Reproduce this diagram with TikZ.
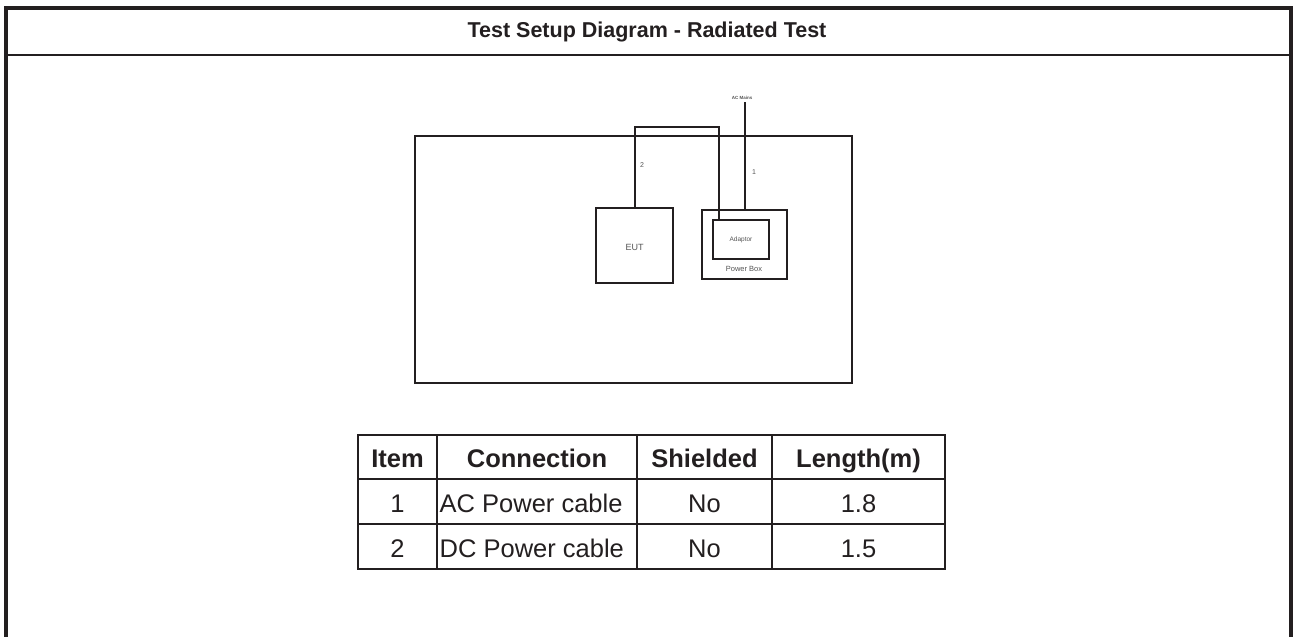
\documentclass[tikz,border=0pt]{standalone}
\usepackage{fontspec}
\setmainfont{Liberation Sans}
\usetikzlibrary{calc}
\definecolor{ink}{HTML}{231F20}
\definecolor{grey}{HTML}{555555}
\begin{document}
\begin{tikzpicture}[x=1pt,y=-1pt,
  frameline/.style={draw=ink,line width=4pt},
  sepline/.style={draw=ink,line width=2.5pt},
  tabline/.style={draw=ink,line width=2.4pt},
  diag/.style={draw=ink,line width=2pt},
  box/.style={draw=ink,line width=2pt,inner sep=0pt,minimum width=#1},
  small/.style={text=grey,font=\fontsize{#1}{#1}\selectfont,inner sep=0pt},
  cell/.style={text=ink,font=\fontsize{25.5}{26}\selectfont,inner sep=0pt,anchor=base},
  head/.style={text=ink,font=\fontsize{25.5}{26}\selectfont\bfseries,inner sep=0pt,anchor=base}]
\useasboundingbox (0,0) rectangle (1293,637);
\fill[white] (0,0) rectangle (1293,637);
% outer frame
\draw[frameline] (6,637) -- (6,8) -- (1291,8) -- (1291,637);
\draw[sepline] (6,55) -- (1291,55);
\node[text=ink,inner sep=0pt,font=\fontsize{21.5}{22}\selectfont\bfseries] (title) at (647,32) {Test Setup Diagram - Radiated Test};
% room
\draw[diag] (415,136) rectangle (852,383);
% EUT
\node[box=77pt,minimum height=75pt] (eut) at (634.5,245.5) {};
\node[small=9] (eutlbl) at (634.5,247) {EUT};
% power box & adaptor
\node[box=85pt,minimum height=69pt] (powerbox) at (744.5,244.5) {};
\node[box=56pt,minimum height=39pt] (adaptor) at (741,239.5) {};
\node[small=6.5] (adlbl) at (741,240) {Adaptor};
\node[small=7.5] (pblbl) at (744,268.5) {Power Box};
% cables
\coordinate (c2top) at (719,127);
\draw[diag] (eut.north) |- (c2top) -- (c2top |- adaptor.north);
\node[text=grey,inner sep=0pt,font=\fontsize{4.5}{4.5}\selectfont\bfseries] (acmains) at (742,98) {AC Mains};
\coordinate (acm) at (745,102);
\draw[diag] (acm) -- (acm |- powerbox.north);
\node[small=7] (lbl2) at (642,165) {2};
\node[small=7] (lbl1) at (754,172) {1};
% table
\draw[tabline] (358,435) rectangle (945,569);
\draw[tabline] (358,479) -- (945,479);
\draw[tabline] (358,524) -- (945,524);
\foreach \x in {437,637,772} \draw[tabline] (\x,435) -- (\x,569);
\node[head] (h1) at (397.5,467) {Item};
\node[head] (h2) at (537,467) {Connection};
\node[head] (h3) at (704.5,467) {Shielded};
\node[head] (h4) at (858.5,467) {Length(m)};
\node[cell] (r1a) at (397.5,512) {1};
\node[cell,anchor=base west] (r1b) at (439.5,512) {AC Power cable};
\node[cell] (r1c) at (704.5,512) {No};
\node[cell] (r1d) at (858.5,512) {1.8};
\node[cell] (r2a) at (397.5,557) {2};
\node[cell,anchor=base west] (r2b) at (439.5,557) {DC Power cable};
\node[cell] (r2c) at (704.5,557) {No};
\node[cell] (r2d) at (858.5,557) {1.5};
\end{tikzpicture}
\end{document}
